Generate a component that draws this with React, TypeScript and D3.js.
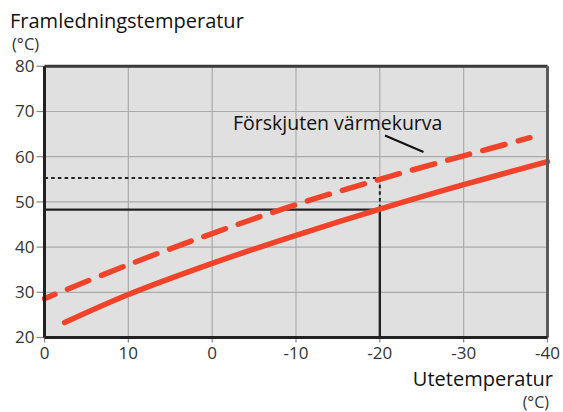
import React from "react";
import * as d3 from "d3";

const W = 563;
const H = 412;

const yTicks = [20, 30, 40, 50, 60, 70, 80];
const xTickValues = [20, 10, 0, -10, -20, -30, -40];
const xTickLabels = ["0", "10", "0", "-10", "-20", "-30", "-40"];

const curveOut = [17.6, 10, 0, -10, -20, -30, -40];
const curveTemp = [23.3, 29.5, 36.4, 42.6, 48.4, 53.8, 58.9];

const shiftedOut = [20, 10, 0, -10, -20, -30, -37.9];
const shiftedTemp = [28.6, 36.1, 43.0, 49.4, 55.0, 60.2, 64.2];

const refOut = -20;
const refTemp = 48.3;
const refShiftedTemp = 55.3;

const title = "Framledningstemperatur";
const unit = "(°C)";
const xTitle = "Utetemperatur";
const annotation = "Förskjuten värmekurva";

const RED = "#f0432a";
const FONT = "'Open Sans', 'Noto Sans', sans-serif";

export default function App() {
  const x = d3.scaleLinear().domain([20, -40]).range([44.5, 547.5]);
  const y = d3.scaleLinear().domain([20, 80]).range([337.5, 66.3]);

  const line = d3
    .line<[number, number]>()
    .x((d) => x(d[0]))
    .y((d) => y(d[1]))
    .curve(d3.curveCatmullRom.alpha(0.5));

  const solid = line(curveOut.map((v, i) => [v, curveTemp[i]]));
  const dashed = line(shiftedOut.map((v, i) => [v, shiftedTemp[i]]));

  const [x0, x1] = x.range();
  const [yb, yt] = y.range();

  return (
    <svg width={W} height={H} style={{ position: "absolute", left: 0, top: 0 }}>
      <rect x={x0} y={yt} width={x1 - x0} height={yb - yt} fill="#e0e0e0" />
      {yTicks.map((t) => (
        <g key={"y" + t}>
          <line x1={x0} x2={x1} y1={y(t)} y2={y(t)} stroke="#ababab" strokeWidth={1.2} />
          <line x1={x0 - 8} x2={x0} y1={y(t)} y2={y(t)} stroke="#888" strokeWidth={1.2} />
          <text x={x0 - 10} y={y(t)} dy="0.35em" textAnchor="end" fontFamily={FONT} fontSize={17} fill="#333">
            {t}
          </text>
        </g>
      ))}
      {xTickValues.map((t, i) => (
        <g key={"x" + i}>
          <line x1={x(t)} x2={x(t)} y1={yt} y2={yb} stroke="#ababab" strokeWidth={1.2} />
          <line x1={x(t)} x2={x(t)} y1={yb} y2={yb + 5} stroke="#888" strokeWidth={1.2} />
          <text x={x(t)} y={yb + 21} textAnchor="middle" fontFamily={FONT} fontSize={17} fill="#333">
            {xTickLabels[i]}
          </text>
        </g>
      ))}

      {/* reference lines */}
      <line x1={x0} x2={x(refOut)} y1={y(refTemp)} y2={y(refTemp)} stroke="#222" strokeWidth={2.2} />
      <line x1={x(refOut)} x2={x(refOut)} y1={y(refTemp)} y2={yb} stroke="#222" strokeWidth={2.4} />
      <line x1={x0} x2={x(refOut)} y1={y(refShiftedTemp)} y2={y(refShiftedTemp)} stroke="#222" strokeWidth={2} strokeDasharray="3.5 3.2" />
      <line x1={x(refOut)} x2={x(refOut)} y1={y(refShiftedTemp)} y2={y(refTemp)} stroke="#222" strokeWidth={2} strokeDasharray="3.5 3.2" />

      {/* curves */}
      <path d={solid || ""} fill="none" stroke={RED} strokeWidth={5.5} strokeLinecap="round" />
      <path
        d={dashed || ""}
        fill="none"
        stroke={RED}
        strokeWidth={5.5}
        strokeLinecap="round"
        strokeDasharray="23 13.5"
        strokeDashoffset={11.5}
      />

      {/* frame */}
      <line x1={x0} x2={x1} y1={yt} y2={yt} stroke="#3a3a3a" strokeWidth={3} />
      <line x1={x1} x2={x1} y1={yt} y2={yb} stroke="#5a5a5a" strokeWidth={3} />
      <line x1={x0} x2={x1} y1={yb} y2={yb} stroke="#222" strokeWidth={3} />
      <line x1={x0} x2={x0} y1={yt} y2={yb} stroke="#222" strokeWidth={3} />

      {/* annotation */}
      <text x={233} y={130} fontFamily={FONT} fontSize={19.5} fill="#111">
        {annotation}
      </text>
      <line x1={385} y1={135.5} x2={423.5} y2={152} stroke="#111" strokeWidth={2} />

      {/* titles */}
      <text x={10} y={28} fontFamily={FONT} fontSize={20} fill="#111">
        {title}
      </text>
      <text x={12} y={50} fontFamily={FONT} fontSize={16.5} fill="#333">
        {unit}
      </text>
      <text x={553} y={386} textAnchor="end" fontFamily={FONT} fontSize={20} fill="#111">
        {xTitle}
      </text>
      <text x={549} y={408} textAnchor="end" fontFamily={FONT} fontSize={16} fill="#333">
        {unit}
      </text>
    </svg>
  );
}
